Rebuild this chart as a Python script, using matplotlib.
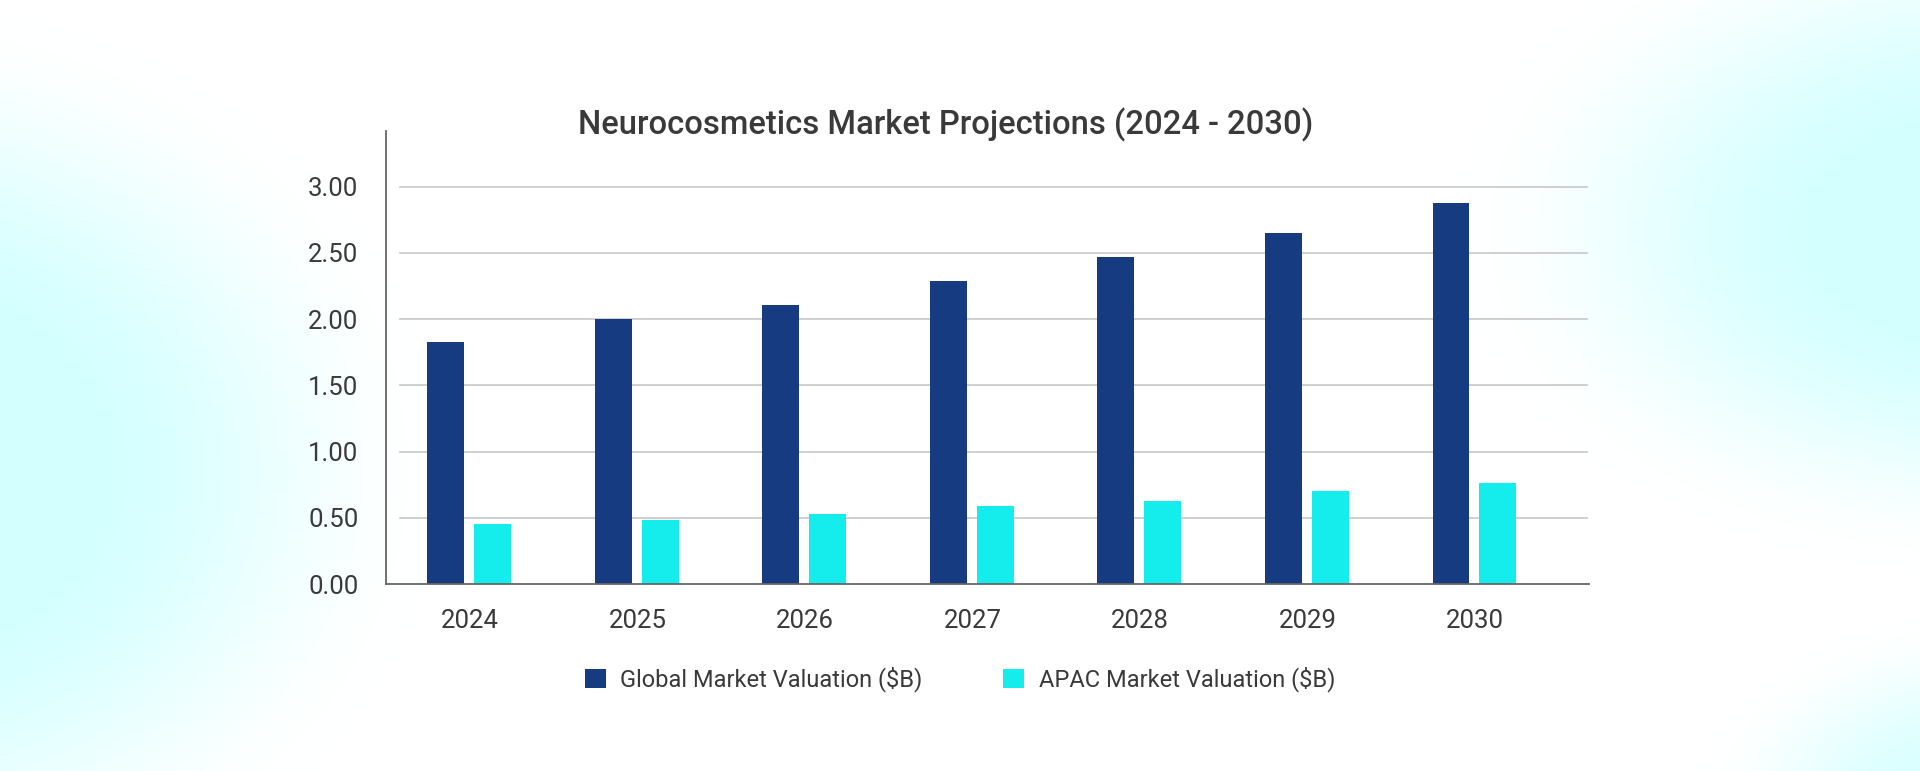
import numpy as np
import matplotlib
matplotlib.use('Agg')
import matplotlib.pyplot as plt

plt.rcParams['font.family'] = ['Roboto', 'DejaVu Sans']

years = ['2024', '2025', '2026', '2027', '2028', '2029', '2030']
global_val = [1.83, 2.00, 2.11, 2.29, 2.47, 2.65, 2.88]
apac_val = [0.45, 0.48, 0.53, 0.59, 0.63, 0.70, 0.76]
series_names = ['Global Market Valuation ($B)', 'APAC Market Valuation ($B)']
title = 'Neurocosmetics Market Projections (2024 - 2030)'

navy = '#173b80'
cyan = '#15eded'
text_col = '#3a3a3a'

W, H = 1920, 771
fig = plt.figure(figsize=(W / 100, H / 100), dpi=100)

# soft cyan glow at the left and right edges
yy, xx = np.mgrid[0:H, 0:W]
def blob(cx, cy, sx, sy, r0, r1):
    r = np.sqrt(((xx - cx) / sx) ** 2 + ((yy - cy) / sy) ** 2)
    t = np.clip((r - r0) / (r1 - r0), 0, 1)
    return 1 - t * t * (3 - 2 * t)
a = np.maximum.reduce([
    blob(-120, 470, 560, 470, 0.35, 1.0),
    blob(2000, 230, 520, 330, 0.3, 1.05),
    0.85 * blob(1990, 820, 300, 210, 0.3, 1.0),
])
a = a[..., None]
c = np.array([0.83, 1.0, 1.0])
bg = (1 - a) * np.ones(3) + a * c
ax_bg = fig.add_axes([0, 0, 1, 1], zorder=-1)
ax_bg.imshow(bg, aspect='auto', extent=(0, 1, 0, 1))
ax_bg.axis('off')

ax = fig.add_axes([385.5 / W, 1 - 584 / H, (1589 - 385.5) / W, (584 - 131) / H])
ax.patch.set_alpha(0)

x = np.arange(len(years))
b1 = ax.bar(x - 0.144, global_val, 0.22, color=navy, zorder=3, label=series_names[0])
b2 = ax.bar(x + 0.136, apac_val, 0.22, color=cyan, zorder=3, label=series_names[1])

ax.set_xlim(-0.504, 6.68)
ax.set_ylim(0, 3.42)
yticks = np.arange(0, 3.01, 0.5)
ax.set_yticks(yticks)
ax.set_yticklabels(['%.2f' % v for v in yticks])
ax.set_xticks(x)
ax.set_xticklabels(years)
for v in yticks[1:]:
    ax.axhline(v, xmin=0.012, xmax=0.998, color='#cccccc', lw=1.3, zorder=1)

for s in ['top', 'right']:
    ax.spines[s].set_visible(False)
for s in ['left', 'bottom']:
    ax.spines[s].set_color('#666666')
    ax.spines[s].set_linewidth(1.3)
ax.spines['bottom'].set_zorder(4)

ax.tick_params(axis='both', length=0, labelsize=18.5, labelcolor=text_col)
ax.tick_params(axis='y', pad=19.5)
ax.tick_params(axis='x', pad=18)

fig.text(0.4925, 1 - 134.3 / H, title, ha='center', va='baseline',
         fontsize=23.6, fontweight='medium', color=text_col)

fig.legend(handles=[b1, b2], loc='center', bbox_to_anchor=(0.5, 0.1187),
           ncol=2, frameon=False, fontsize=17, handlelength=0.89,
           handleheight=0.89, handletextpad=0.62, columnspacing=3.4,
           labelcolor=text_col)

fig.savefig('out.png', dpi=100)
